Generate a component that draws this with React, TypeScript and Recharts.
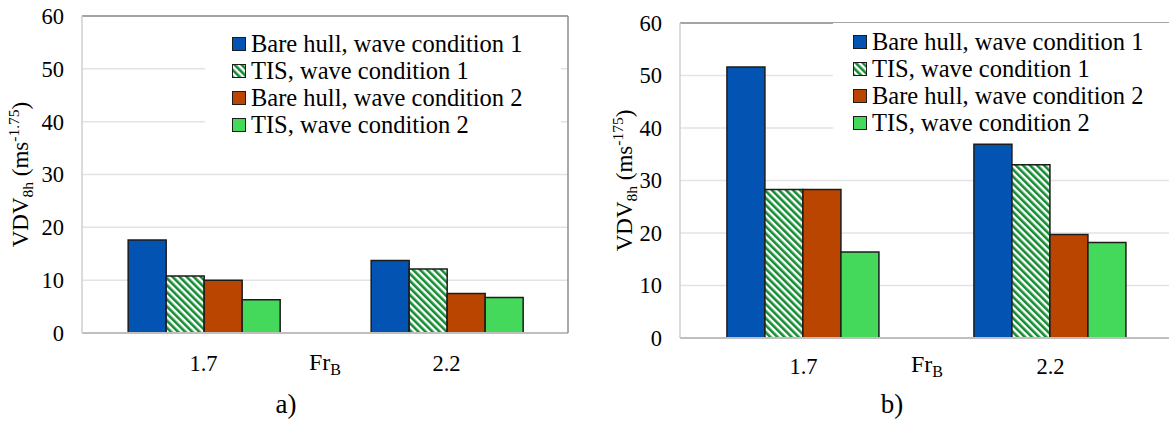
import { BarChart, Bar, XAxis, YAxis, CartesianGrid, Legend } from 'recharts'

const frCategories = ['1.7', '2.2']
const seriesNames = [
  'Bare hull, wave condition 1',
  'TIS, wave condition 1',
  'Bare hull, wave condition 2',
  'TIS, wave condition 2',
]
const yTicks = [0, 10, 20, 30, 40, 50, 60]

// panel a)
const bareHullWave1A = [17.6, 13.7]
const tisWave1A = [10.8, 12.1]
const bareHullWave2A = [10.0, 7.5]
const tisWave2A = [6.3, 6.7]

// panel b)
const bareHullWave1B = [51.6, 36.9]
const tisWave1B = [28.3, 33.0]
const bareHullWave2B = [28.3, 19.7]
const tisWave2B = [16.4, 18.2]

const C = {
  blue: '#0353B3', hatch: '#148C32', orange: '#B94501', green: '#45D95B',
  edge: '#1c1c1c', grid: '#e3e3e3', frame: '#8c8c8c', text: '#000',
}
const FONT = 'Liberation Serif, DejaVu Serif, serif'
const keys = ['bare1', 'tis1', 'bare2', 'tis2']
const fills = [C.blue, 'url(#tisHatch)', C.orange, C.green]

function rows(s1: number[], s2: number[], s3: number[], s4: number[]) {
  return frCategories.map((fr, i) => ({ fr, bare1: s1[i], tis1: s2[i], bare2: s3[i], tis2: s4[i] }))
}

function LegendBox() {
  return (
    <div style={{ fontFamily: FONT, fontSize: 24.5, lineHeight: '27px', color: C.text, background: '#fff' }}>
      {seriesNames.map((n, i) => (
        <div key={n} style={{ display: 'flex', alignItems: 'center', whiteSpace: 'nowrap' }}>
          <svg width={14} height={14} style={{ marginRight: 5 }}>
            <rect x={0.5} y={0.5} width={13} height={13} fill={fills[i]} stroke={C.edge} strokeWidth={1} />
          </svg>
          {n}
        </div>
      ))}
    </div>
  )
}

interface PanelProps {
  data: ReturnType<typeof rows>
  x: number
  margin: { top: number; right: number; bottom: number; left: number }
  unit: string
  labelX: number
  tickGap: number
  frGap: number
  legend: { left: number; top: number; width: number; height: number; padLeft: number }
  caption: string
  captionX: number
}

function Panel({ data, x, margin, unit, labelX, tickGap, frGap, legend, caption, captionX }: PanelProps) {
  const yLabel = ({ viewBox }: any) => {
    const cy = viewBox.y + viewBox.height / 2
    return (
      <text x={labelX} y={cy} transform={`rotate(-90, ${labelX}, ${cy})`} textAnchor="middle"
        fontFamily={FONT} fontSize={23} fill={C.text}>
        VDV<tspan fontSize={15.5} dy={5}>8h</tspan>
        <tspan dy={-5}> (ms</tspan>
        <tspan fontSize={15.5} dy={-9}>{unit}</tspan>
        <tspan dy={9}>)</tspan>
      </text>
    )
  }
  const xLabel = ({ viewBox }: any) => (
    <text x={viewBox.x + viewBox.width / 2} y={viewBox.y + frGap} textAnchor="middle"
      fontFamily={FONT} fontSize={24} fill={C.text}>
      Fr<tspan fontSize={16} dy={5}>B</tspan>
    </text>
  )
  return (
    <div style={{ position: 'absolute', left: x, top: 0 }}>
      <BarChart width={600} height={422} data={data} margin={margin} barCategoryGap="19%" barGap={0}
        style={{ fontFamily: FONT }}>
        <CartesianGrid vertical={false} stroke={C.grid} strokeWidth={1.5} />
        <XAxis dataKey="fr" axisLine={{ stroke: '#bfbfbf', strokeWidth: 2 }} tickLine={false} height={40}
          tickMargin={tickGap} tick={{ fontSize: 22.5, fill: C.text, fontFamily: FONT }} label={{ content: xLabel }} />
        <XAxis xAxisId="top" orientation="top" dataKey="fr" height={1} tick={false} tickLine={false}
          axisLine={{ stroke: C.frame, strokeWidth: 1.5 }} />
        <YAxis domain={[0, 60]} ticks={yTicks} width={60} tickLine={false} tickMargin={12}
          axisLine={{ stroke: '#cfcfcf', strokeWidth: 1.5 }}
          tick={{ fontSize: 22.5, fill: C.text, fontFamily: FONT }} label={{ content: yLabel }} />
        <YAxis yAxisId="right" orientation="right" domain={[0, 60]} width={1} tick={false} tickLine={false}
          axisLine={{ stroke: C.frame, strokeWidth: 1.5 }} />
        <Legend layout="vertical" align="center" verticalAlign="middle" content={() => <LegendBox />}
          wrapperStyle={{ position: 'absolute', left: legend.left, top: legend.top, width: legend.width,
            height: legend.height, background: '#fff', paddingLeft: legend.padLeft, paddingTop: 5, boxSizing: 'border-box' }} />
        {keys.map((k, i) => (
          <Bar key={k} dataKey={k} name={seriesNames[i]} fill={fills[i]} stroke={C.edge} strokeWidth={1.5}
            isAnimationActive={false} />
        ))}
      </BarChart>
      <div style={{ position: 'absolute', left: captionX - 40, top: 388, width: 80, textAlign: 'center',
        fontFamily: FONT, fontSize: 27, lineHeight: '32px', color: C.text }}>{caption}</div>
    </div>
  )
}

export default function App() {
  const dataA = rows(bareHullWave1A, tisWave1A, bareHullWave2A, tisWave2A)
  const dataB = rows(bareHullWave1B, tisWave1B, bareHullWave2B, tisWave2B)
  return (
    <div style={{ position: 'absolute', left: 0, top: 0, width: 1169, height: 422, overflow: 'hidden', background: '#fff' }}>
      <svg width={0} height={0} style={{ position: 'absolute' }}>
        <defs>
          <pattern id="tisHatch" patternUnits="userSpaceOnUse" width={5} height={5} patternTransform="rotate(-45)">
            <rect width={5} height={5} fill="#fff" />
            <rect width={2.6} height={5} fill={C.hatch} />
          </pattern>
        </defs>
      </svg>
      <Panel data={dataA} x={0} margin={{ top: 15, right: 31, bottom: 49, left: 22 }} unit="-1.75"
        labelX={28} tickGap={16} frGap={37}
        legend={{ left: 205, top: 25, width: 356, height: 116, padLeft: 27 }} caption="a)" captionX={286} />
      <Panel data={dataB} x={580} margin={{ top: 22, right: 5, bottom: 44, left: 40 }} unit="-175"
        labelX={52} tickGap={14} frGap={34}
        legend={{ left: 253, top: 23, width: 345, height: 116, padLeft: 20 }} caption="b)" captionX={312} />
    </div>
  )
}
